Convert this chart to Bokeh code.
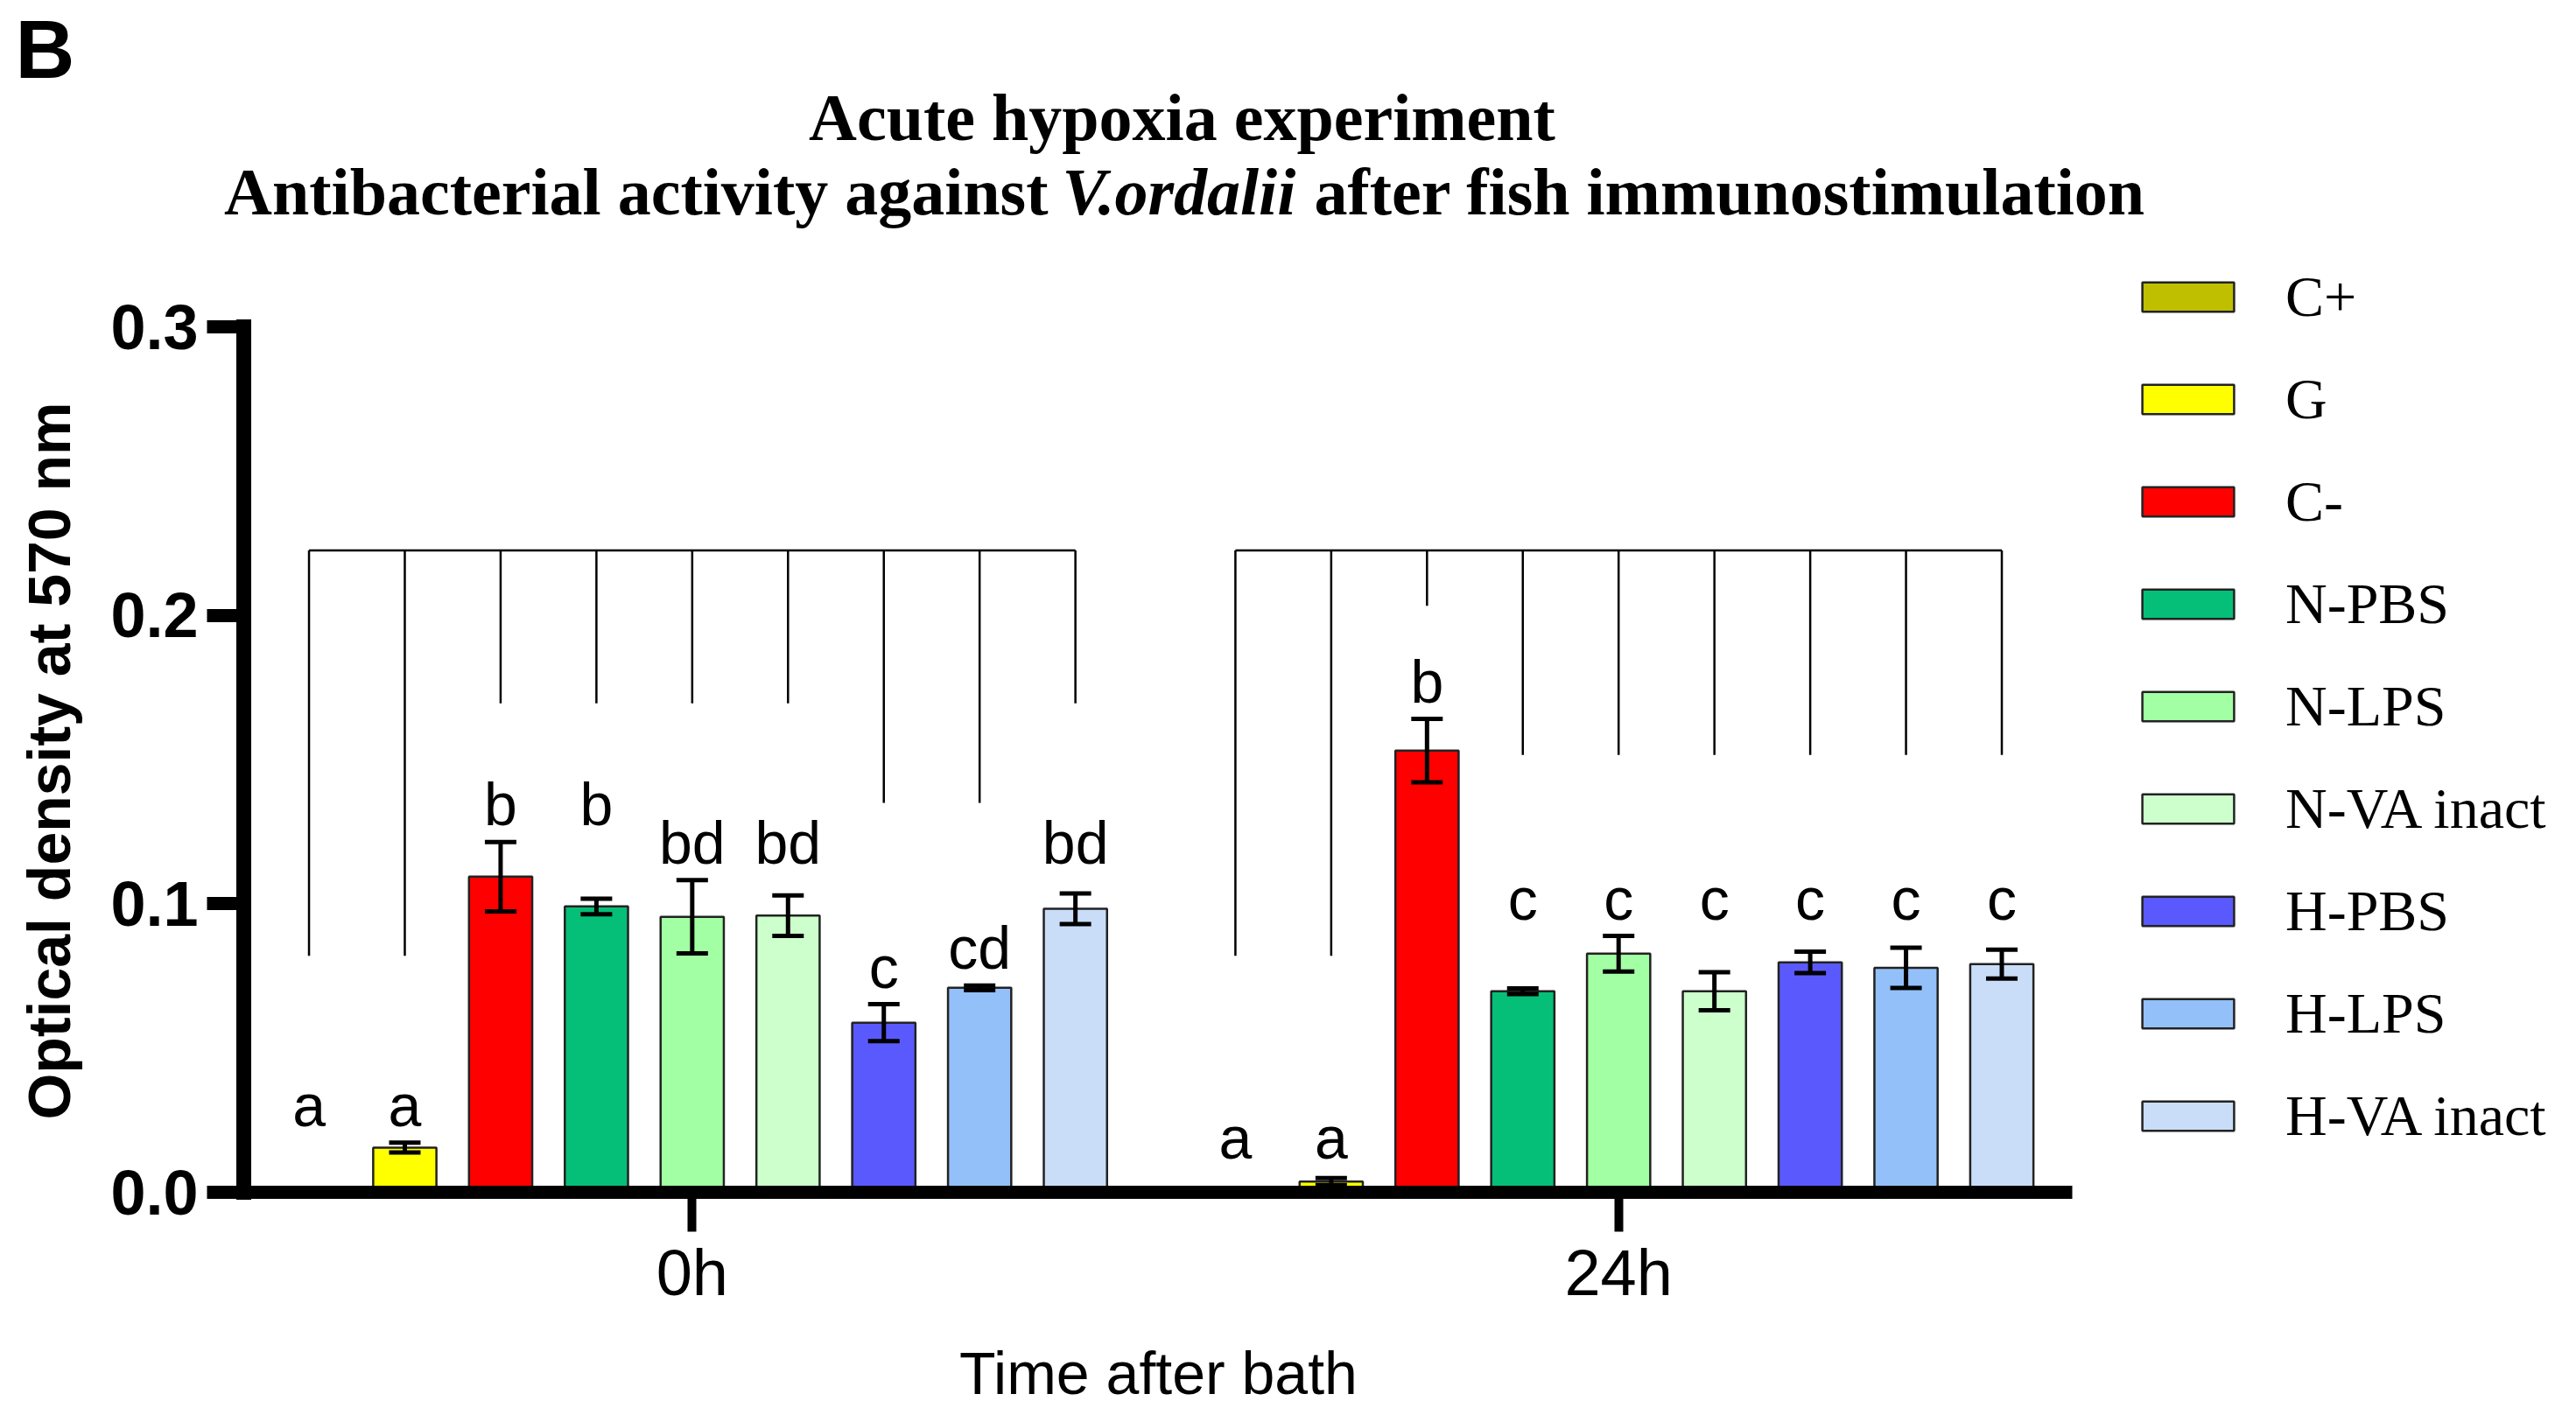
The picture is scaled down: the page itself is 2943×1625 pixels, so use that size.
import math
from bokeh.plotting import figure
from bokeh.models import (ColumnDataSource, Whisker, TeeHead, Label, Legend, LegendItem,
                          FixedTicker, PrintfTickFormatter, CustomJSTickFormatter)
from bokeh.embed import file_html
from bokeh.resources import INLINE
from bokeh.core.properties import value

# ---------------- data ----------------
times = ["0h", "24h"]
treatments = ["C+", "G", "C-", "N-PBS", "N-LPS", "N-VA inact", "H-PBS", "H-LPS", "H-VA inact"]
colors = ["#BFBF00", "#FFFF00", "#FF0000", "#05BF78", "#A3FFA3", "#CCFFCC",
          "#5959FD", "#93C0F9", "#C9DDF8"]

od_0h = [0.0, 0.0155, 0.1094, 0.0991, 0.0955, 0.0959, 0.0588, 0.0709, 0.0983]
sem_0h = [0.0, 0.0017, 0.0120, 0.0027, 0.0127, 0.0070, 0.0064, 0.0008, 0.0053]
od_24h = [0.0, 0.0037, 0.1531, 0.0697, 0.0827, 0.0697, 0.0797, 0.0778, 0.0791]
sem_24h = [0.0, 0.0012, 0.0110, 0.0010, 0.0062, 0.0066, 0.0037, 0.0070, 0.0050]

letters_0h = ["a", "a", "b", "b", "bd", "bd", "c", "cd", "bd"]
letters_24h = ["a", "a", "b", "c", "c", "c", "c", "c", "c"]

bracket_top = 0.2225
bracket_drop_0h = [0.082, 0.082, 0.1695, 0.1695, 0.1695, 0.1695, 0.135, 0.135, 0.1695]
bracket_drop_24h = [0.082, 0.082, 0.2033, 0.1516, 0.1516, 0.1516, 0.1516, 0.1516, 0.1516]

y_ticks = [0.0, 0.1, 0.2, 0.3]
title_1 = "Acute hypoxia experiment"
title_2 = ["Antibacterial activity against", "V.ordalii", "after fish immunostimulation"]
panel_letter = "B"
x_title = "Time after bath"
y_title = "Optical density at 570 nm"

# ---------------- layout constants (pixels) ----------------
W, H = 2927, 1609
GROUP_STEP = 9.67
BAR_W = 0.66
LETTER_GAP = 0.013
LETTER_FLOOR = 0.019
X_START, X_AXIS_END = -0.681, 18.406
PX_PER_X = 109.45
AXIS_PX_X = 278          # canvas x of the y axis
ZERO_PX_Y = 1362         # canvas y (from top) of y = 0
PX_PER_Y = 989 / 0.3

means = [od_0h, od_24h]
sems = [sem_0h, sem_24h]
letters = [letters_0h, letters_24h]
drops = [bracket_drop_0h, bracket_drop_24h]
n = len(treatments)

def xpos(g, i):
    return g * GROUP_STEP + i

group_centers = [xpos(g, (n - 1) / 2) for g in range(len(times))]

x_lo = X_START - AXIS_PX_X / PX_PER_X
x_hi = X_START + (W - AXIS_PX_X) / PX_PER_X
y_lo = -(H - ZERO_PX_Y) / PX_PER_Y
y_hi = ZERO_PX_Y / PX_PER_Y

p = figure(width=W, height=H, x_range=(x_lo, x_hi), y_range=(y_lo, y_hi),
           output_backend="svg", toolbar_location=None, min_border=0)
p.outline_line_color = None
p.xgrid.visible = False
p.ygrid.visible = False
p.background_fill_color = "white"

def sy(py):  # canvas y from top -> screen y from bottom
    return H - py

# bars
bar_renderers = []
for i, t in enumerate(treatments):
    src = ColumnDataSource(dict(x=[xpos(g, i) for g in range(len(times))],
                                top=[means[g][i] for g in range(len(times))]))
    r = p.vbar(x="x", top="top", bottom=0, width=BAR_W, source=src,
               fill_color=colors[i], line_color="#222222", line_width=2.5)
    bar_renderers.append(r)

# error bars (drawn above the bars)
wx, wu, wl = [], [], []
for g in range(len(times)):
    for i in range(n):
        m, s = means[g][i], sems[g][i]
        if m == 0 and s == 0:
            continue
        wx.append(xpos(g, i)); wu.append(m + s); wl.append(m - s)
wsrc = ColumnDataSource(dict(x=wx, upper=wu, lower=wl))
p.add_layout(Whisker(source=wsrc, base="x", upper="upper", lower="lower", level="overlay",
                     line_color="black", line_width=5,
                     upper_head=TeeHead(size=36, line_width=5, line_color="black"),
                     lower_head=TeeHead(size=36, line_width=5, line_color="black")))

# brackets
x0s, y0s, x1s, y1s = [], [], [], []
for g in range(len(times)):
    x0s.append(xpos(g, 0)); x1s.append(xpos(g, n - 1))
    y0s.append(bracket_top); y1s.append(bracket_top)
    for i in range(n):
        x0s.append(xpos(g, i)); x1s.append(xpos(g, i))
        y0s.append(bracket_top); y1s.append(drops[g][i])
p.segment(x0=x0s, y0=y0s, x1=x1s, y1=y1s, line_color="black", line_width=2.5)

# significance letters
lx, ly, lt = [], [], []
for g in range(len(times)):
    tops = [m + s for m, s in zip(means[g], sems[g])]
    for i, L in enumerate(letters[g]):
        mx = max(tp for tp, l in zip(tops, letters[g]) if l == L)
        lx.append(xpos(g, i)); ly.append(max(mx + LETTER_GAP, LETTER_FLOOR)); lt.append(L)
p.text(x=lx, y=ly, text=lt, text_align="center", text_baseline="alphabetic",
       text_font=value("Liberation Sans"), text_font_size=value("68px"), text_color="black")

# axes (placed at fixed data locations)
yax = p.yaxis[0]
yax.fixed_location = X_START
yax.bounds = (0, 0.3)
yax.ticker = FixedTicker(ticks=y_ticks, minor_ticks=[])
yax.formatter = PrintfTickFormatter(format="%.1f")
yax.axis_line_width = 17
yax.axis_line_cap = "square"
yax.axis_line_color = "black"
yax.major_tick_line_width = 15
yax.major_tick_line_color = "black"
yax.major_tick_out = 42
yax.major_tick_in = 0
yax.minor_tick_line_color = None
yax.major_label_text_font = "Liberation Sans"
yax.major_label_text_font_size = "72px"
yax.major_label_text_font_style = "bold"
yax.major_label_text_color = "black"
yax.major_label_standoff = 10

xax = p.xaxis[0]
xax.fixed_location = 0
xax.bounds = (X_START, X_AXIS_END)
xax.ticker = FixedTicker(ticks=group_centers, minor_ticks=[])
xax.formatter = CustomJSTickFormatter(args=dict(labels=times, step=GROUP_STEP, c0=group_centers[0]),
                                      code="return labels[Math.round((tick - c0) / step)];")
xax.axis_line_width = 15
xax.axis_line_color = "black"
xax.major_tick_line_width = 10
xax.major_tick_line_color = "black"
xax.major_tick_out = 45
xax.major_tick_in = 0
xax.minor_tick_line_color = None
xax.major_label_text_font = "Liberation Sans"
xax.major_label_text_font_size = "74px"
xax.major_label_text_color = "black"
xax.major_label_standoff = 5

# axis titles
p.add_layout(Label(x=55, y=sy(869), x_units="screen", y_units="screen", text=y_title,
                   angle=math.pi / 2, text_align="center", text_baseline="alphabetic",
                   text_font="Liberation Sans", text_font_style="bold", text_font_size="68px",
                   text_color="black"))
p.add_layout(Label(x=1323, y=sy(1568), x_units="screen", y_units="screen", text=x_title,
                   text_align="center", text_baseline="alphabetic",
                   text_font="Liberation Sans", text_font_size="68px", text_color="black"))

# titles
tfont = dict(text_font="Liberation Serif", text_font_style="bold", text_font_size="76px",
             text_color="black", text_baseline="alphabetic", x_units="screen", y_units="screen")
p.add_layout(Label(x=1350, y=sy(133), text=title_1, text_align="center", **tfont))
p.add_layout(Label(x=1197, y=sy(218), text=title_2[0], text_align="right", **tfont))
it = dict(tfont); it["text_font_style"] = "bold italic"
p.add_layout(Label(x=1213, y=sy(218), text=title_2[1], text_align="left", **it))
p.add_layout(Label(x=1501, y=sy(218), text=title_2[2], text_align="left", **tfont))
p.add_layout(Label(x=17, y=sy(56), x_units="screen", y_units="screen", text=panel_letter,
                   text_align="left", text_baseline="alphabetic",
                   text_font="Liberation Sans", text_font_style="bold",
                   text_font_size="94px", text_color="black"))

# legend
legend = Legend(items=[LegendItem(label=t, renderers=[r]) for t, r in zip(treatments, bar_renderers)],
                location=(2434, sy(1312.5)), orientation="vertical",
                glyph_width=131, glyph_height=42, label_height=42, label_standoff=46,
                spacing=41, padding=0, margin=0, border_line_color=None,
                background_fill_alpha=0, label_text_font="Liberation Serif",
                label_text_font_size="66px", label_text_color="black")
p.add_layout(legend)

open("out.html", "w").write(file_html(p, INLINE))
